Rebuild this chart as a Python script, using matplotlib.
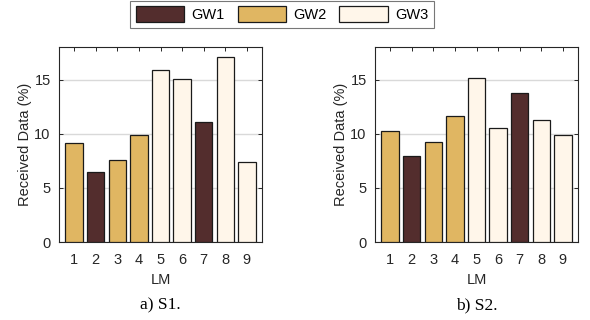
import matplotlib
matplotlib.use("Agg")
import matplotlib.pyplot as plt
from matplotlib.patches import Patch

plt.rcParams['font.family'] = ['Liberation Sans', 'DejaVu Sans']

# data
lm = [1, 2, 3, 4, 5, 6, 7, 8, 9]
s1 = [9.15, 6.5, 7.6, 9.85, 15.9, 15.08, 11.1, 17.1, 7.4]
s2 = [10.26, 7.95, 9.24, 11.64, 15.14, 10.48, 13.8, 11.3, 9.89]
gw_s1 = [2, 1, 2, 2, 3, 3, 1, 3, 3]
gw_s2 = [2, 1, 2, 2, 3, 3, 1, 3, 3]
gw_names = ['GW1', 'GW2', 'GW3']
yticks = [0, 5, 10, 15]
captions = ['a) S1.', 'b) S2.']

colors = {1: '#532d2d', 2: '#e0b662', 3: '#fff6ea'}

fig = plt.figure(figsize=(5.9, 3.2), dpi=100)
ax1 = fig.add_axes([59/590, 78/320, 203/590, 195/320])
ax2 = fig.add_axes([375/590, 78/320, 203/590, 195/320])

for ax, vals, gws, cap in [(ax1, s1, gw_s1, captions[0]), (ax2, s2, gw_s2, captions[1])]:
    ax.bar(lm, vals, width=0.8, color=[colors[g] for g in gws],
           edgecolor='#1a1a1a', linewidth=0.9, zorder=3)
    ax.set_xlim(0.3, 9.7)
    ax.set_ylim(0, 18)
    ax.set_xticks(lm)
    ax.set_yticks(yticks)
    ax.yaxis.grid(True, color='#d9d9d9', linewidth=1.0, zorder=0)
    ax.tick_params(direction='in', top=True, right=True, length=3,
                   labelsize=10.5, colors='#262626', width=0.7)
    ax.tick_params(axis='x', pad=8)
    ax.tick_params(axis='y', pad=6)
    for sp in ax.spines.values():
        sp.set_color('#262626')
        sp.set_linewidth(0.8)
    ax.set_ylabel('Received Data (%)', fontsize=10.5, color='#262626', labelpad=2)
    ax.set_xlabel('LM', fontsize=10.5, color='#262626', labelpad=4)
    ax.text(0.5, -0.325, cap, transform=ax.transAxes, ha='center', va='center',
            fontsize=12.5, family=['Liberation Serif', 'DejaVu Serif'])

handles = [Patch(facecolor=colors[i + 1], edgecolor='#1a1a1a', linewidth=0.9)
           for i in range(3)]
leg = fig.legend(handles, gw_names, loc='upper center', ncol=3,
                 bbox_to_anchor=(282/590, 0.998), fontsize=10.5,
                 handlelength=3.3, handleheight=1.25, columnspacing=0.9,
                 handletextpad=0.5, borderpad=0.4, borderaxespad=0,
                 fancybox=False, edgecolor='#555555')
leg.get_frame().set_linewidth(0.8)

fig.savefig('out.png', dpi=100)
